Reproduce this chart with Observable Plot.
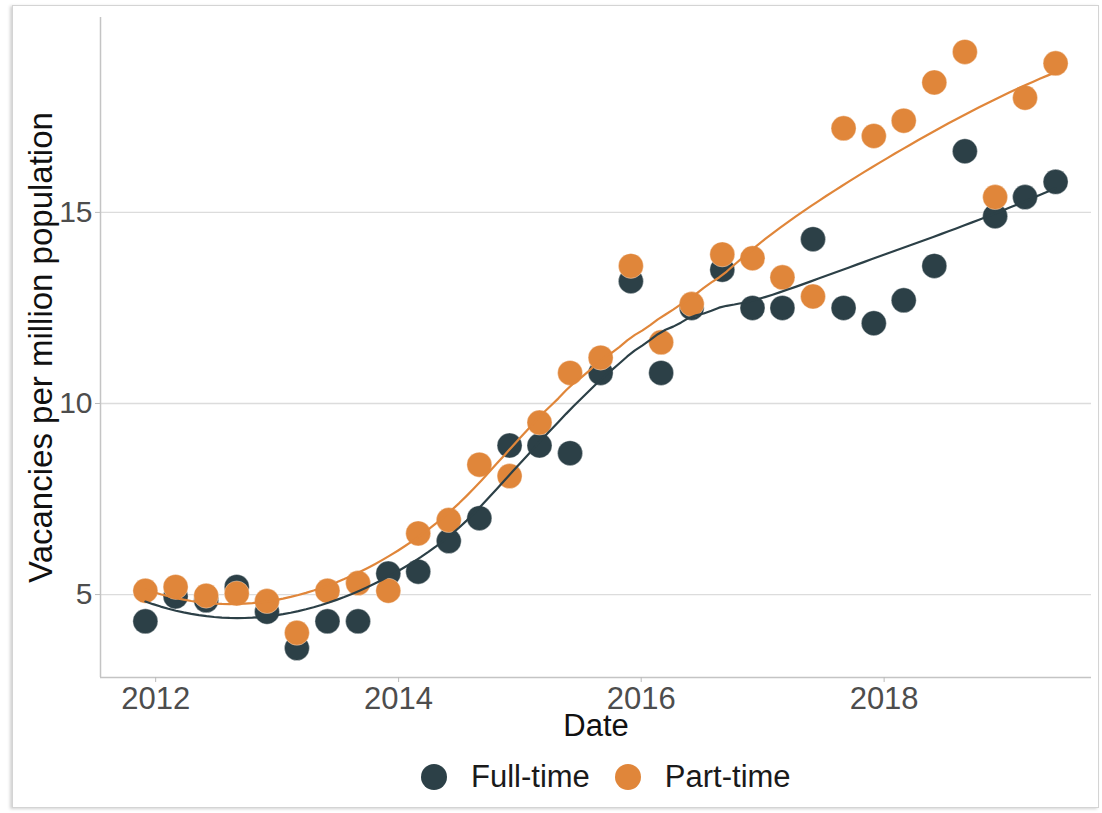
<!DOCTYPE html>
<html>
<head>
<meta charset="utf-8">
<script src="https://cdn.jsdelivr.net/npm/d3@7"></script>
<script src="https://cdn.jsdelivr.net/npm/@observablehq/plot@0.6"></script>
<style>
  html, body { margin: 0; padding: 0; background: #fff; }
  #wrap { position: relative; width: 1102px; height: 813px; overflow: hidden;
          font-family: "Liberation Sans", Arial, Helvetica, sans-serif; }
  #frame { position: absolute; left: 12px; top: 5px; width: 1085px; height: 801px;
           border: 1px solid #d4d4d4; box-shadow: -2px 1px 3px rgba(0,0,0,0.18); pointer-events: none; }
  #chart { position: absolute; left: 0; top: 0; }
  #legend { position: absolute; left: 421px; top: 751px; height: 52px; display: flex; align-items: center;
            font-size: 31px; color: #1a1a1a; }
  .sw { width: 26px; height: 26px; border-radius: 50%; display: inline-block; }
  #chart [aria-label="y-axis label"] text { fill: #111; font-size: 33px; }
  #chart [aria-label="x-axis label"] text { fill: #111; font-size: 31px; }
</style>
</head>
<body>
<div id="wrap">
  <div id="chart"></div>
  <div id="legend"></div>
  <div id="frame"></div>
</div>
<script>
// ---- data ----
const dates = ["2011-12-01","2012-03-01","2012-06-01","2012-09-01","2012-12-01","2013-03-01","2013-06-01","2013-09-01",
  "2013-12-01","2014-03-01","2014-06-01","2014-09-01","2014-12-01","2015-03-01","2015-06-01","2015-09-01",
  "2015-12-01","2016-03-01","2016-06-01","2016-09-01","2016-12-01","2017-03-01","2017-06-01","2017-09-01",
  "2017-12-01","2018-03-01","2018-06-01","2018-09-01","2018-12-01","2019-03-01","2019-06-01"];
const fullTime = [4.3, 4.95, 4.85, 5.2, 4.55, 3.6, 4.3, 4.3, 5.55, 5.6, 6.4, 7.0, 8.9, 8.9, 8.7, 10.8,
  13.2, 10.8, 12.5, 13.5, 12.5, 12.5, 14.3, 12.5, 12.1, 12.7, 13.6, 16.6, 14.9, 15.4, 15.8];
const partTime = [5.1, 5.2, 4.97, 5.03, 4.83, 4.0, 5.1, 5.3, 5.1, 6.6, 6.95, 8.4, 8.1, 9.5, 10.8, 11.2,
  13.6, 11.6, 12.6, 13.9, 13.8, 13.3, 12.8, 17.2, 17.0, 17.4, 18.4, 19.2, 15.4, 18.0, 18.9];
const seriesNames = ["Full-time", "Part-time"];
const seriesColors = ["#2c4047", "#e0863a"];
const xTickYears = ["2012-01-01", "2014-01-01", "2016-01-01", "2018-01-01"];
const yTicks = [5, 10, 15];
const xDomain = ["2011-07-19", "2019-09-17"];
const yDomain = [2.83, 20.1];
const xLabel = "Date";
const yLabel = "Vacancies per million population";

// ---- build table ----
const parse = d3.utcParse("%Y-%m-%d");
const points = [];
seriesNames.forEach((s, k) => {
  const vals = k === 0 ? fullTime : partTime;
  dates.forEach((d, i) => points.push({date: parse(d), value: vals[i], series: s}));
});

// loess smoother (span 0.75, degree 2, tricube weights) like geom_smooth
function loess(xs, ys, xq, span) {
  const n = xs.length, q = Math.floor(n * span);
  return xq.map(x0 => {
    const d = xs.map(x => Math.abs(x - x0));
    const h = d.slice().sort((a, b) => a - b)[q - 1] * 1.0000001;
    const S = [0,0,0,0,0], T = [0,0,0];
    for (let i = 0; i < n; i++) {
      const u = d[i] / h;
      if (u >= 1) continue;
      const w = Math.pow(1 - u*u*u, 3);
      const dx = xs[i] - x0;
      let p = 1;
      for (let k = 0; k < 5; k++) { S[k] += w * p; p *= dx; }
      T[0] += w * ys[i]; T[1] += w * ys[i] * dx; T[2] += w * ys[i] * dx * dx;
    }
    const A = [[S[0],S[1],S[2]],[S[1],S[2],S[3]],[S[2],S[3],S[4]]];
    const det = m => m[0][0]*(m[1][1]*m[2][2]-m[1][2]*m[2][1]) - m[0][1]*(m[1][0]*m[2][2]-m[1][2]*m[2][0]) + m[0][2]*(m[1][0]*m[2][1]-m[1][1]*m[2][0]);
    const D = det(A);
    const A0 = A.map((r, i) => [T[i], r[1], r[2]]);
    return det(A0) / D;
  });
}
const toYears = dt => dt.getTime() / (365.25 * 86400000);
const xsYears = dates.map(d => toYears(parse(d)));
const nq = 120;
const x0 = xsYears[0], x1 = xsYears[xsYears.length - 1];
const qYears = d3.range(nq).map(i => x0 + (x1 - x0) * i / (nq - 1));
const smooth = [];
seriesNames.forEach((s, k) => {
  const vals = k === 0 ? fullTime : partTime;
  const fit = loess(xsYears, vals, qYears, 0.75);
  qYears.forEach((t, i) => smooth.push({date: new Date(t * 365.25 * 86400000), value: fit[i], series: s}));
});

const chart = Plot.plot({
  width: 1102,
  height: 751,
  marginLeft: 100,
  marginRight: 11,
  marginTop: 17,
  marginBottom: 74,
  style: {fontFamily: '"Liberation Sans", Arial, Helvetica, sans-serif', fontSize: "30px", background: "transparent", overflow: "visible"},
  x: {type: "utc", domain: xDomain.map(parse)},
  y: {domain: yDomain},
  color: {domain: seriesNames, range: seriesColors},
  marks: [
    Plot.gridY(yTicks, {stroke: "#dcdcdc", strokeOpacity: 1, strokeWidth: 1.3}),
    Plot.ruleX([parse(xDomain[0])], {stroke: "#c4c4c4", strokeWidth: 1.5}),
    Plot.ruleY([yDomain[0]], {stroke: "#c4c4c4", strokeWidth: 1.5}),
    Plot.axisY(yTicks, {tickSize: 5, tickPadding: 3, stroke: "#bbbbbb", color: "#4d4d4d", fontSize: 30,
      label: yLabel, labelAnchor: "center", labelArrow: "none", labelOffset: 72}),
    Plot.axisX(xTickYears.map(parse), {tickSize: 5, tickPadding: 4, stroke: "#bbbbbb", color: "#4d4d4d", fontSize: 31,
      tickFormat: d3.utcFormat("%Y"), label: xLabel, labelAnchor: "center", labelArrow: "none", labelOffset: 58}),
    Plot.dot(points, {x: "date", y: "value", fill: "series", r: 12.5, stroke: "white", strokeWidth: 0.6, strokeOpacity: 0.6}),
    Plot.line(smooth, {x: "date", y: "value", stroke: "series", strokeWidth: 2.2, curve: "linear"})
  ]
});
document.getElementById("chart").appendChild(chart);

// legend
const lg = document.getElementById("legend");
seriesNames.forEach((s, i) => {
  const sw = document.createElement("span");
  sw.className = "sw";
  sw.style.background = seriesColors[i];
  sw.style.marginRight = "24px";
  sw.style.marginLeft = i === 0 ? "0px" : "25px";
  const t = document.createElement("span");
  t.textContent = s;
  lg.appendChild(sw);
  lg.appendChild(t);
});
</script>
</body>
</html>
